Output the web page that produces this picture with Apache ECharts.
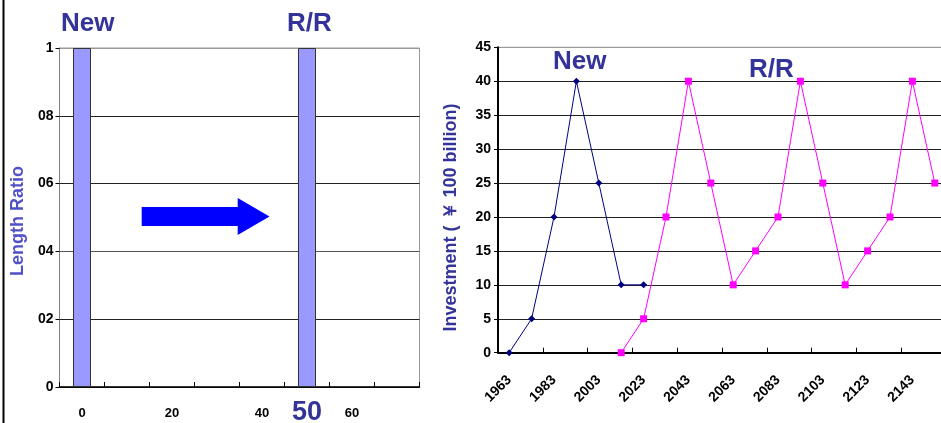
<!DOCTYPE html>
<html>
<head>
<meta charset="utf-8">
<script src="https://cdn.jsdelivr.net/npm/echarts@6/dist/echarts.min.js"></script>
<style>
html,body{margin:0;padding:0;background:#fff;}
#c{width:941px;height:423px;}
</style>
</head>
<body>
<div id="c"></div>
<script>
// Left chart data
var leftCategories = ["0","10","20","30","40","50","60","70"];
var leftValues = [1, null, null, null, null, 1, null, null];
var leftYTickLabels = {"0":"0","0.2":"02","0.4":"04","0.6":"06","0.8":"08","1":"1"};
var leftHighlightIndex = 5;

// Right chart data
var years = ["1963","1973","1983","1993","2003","2013","2023","2033","2043","2053","2063","2073","2083","2093","2103","2113","2123","2133","2143","2153"];
var newValues = [0,5,20,40,25,10,10,null,null,null,null,null,null,null,null,null,null,null,null,null];
var rrValues = [null,null,null,null,null,0,5,20,40,25,10,15,20,40,25,10,15,20,40,25];

var navy = '#333399';
var font = 'Liberation Sans, Arial, sans-serif';

var chart = echarts.init(document.getElementById('c'), null, {renderer:'canvas'});

chart.setOption({
  animation:false,
  backgroundColor:'#fff',
  grid:[
    {left:59.5, top:48, width:360, height:339, show:true, borderColor:'#999', borderWidth:1, backgroundColor:'transparent', outerBoundsMode:'none', containLabel:false},
    {left:498, top:47.3, width:448, height:305.4, show:true, borderColor:'#999', borderWidth:1, backgroundColor:'transparent', outerBoundsMode:'none', containLabel:false}
  ],
  xAxis:[
    {
      gridIndex:0, type:'category', data:leftCategories, boundaryGap:true,
      axisLine:{lineStyle:{color:'#000', width:1.5}},
      axisTick:{show:true, inside:true, length:5, lineStyle:{color:'#000', width:1}},
      axisLabel:{
        interval:0, margin:26, verticalAlign:'middle', color:'#000', fontFamily:font, fontWeight:'bold', fontSize:13,
        formatter:function(v, i){
          if(i === leftHighlightIndex) return '{big|' + v + '}';
          return i % 2 === 0 ? v : '';
        },
        rich:{big:{fontSize:27, fontWeight:'bold', color:navy, fontFamily:font, verticalAlign:'middle'}}
      },
      splitLine:{show:false}
    },
    {
      gridIndex:1, type:'category', data:years, boundaryGap:true,
      axisLine:{lineStyle:{color:'#000', width:2}},
      axisTick:{show:true, inside:true, length:5, lineStyle:{color:'#000', width:1}},
      axisLabel:{interval:1, rotate:45, margin:25, color:'#000', fontFamily:font, fontWeight:'bold', fontSize:14},
      splitLine:{show:false}
    }
  ],
  yAxis:[
    {
      gridIndex:0, type:'value', min:0, max:1, interval:0.2,
      name:'Length Ratio', nameLocation:'middle', nameGap:32,
      nameTextStyle:{color:'#5050C8', fontFamily:font, fontWeight:'bold', fontSize:18, padding:[0,7,0,0]},
      axisLine:{show:true, lineStyle:{color:'#808080', width:1}},
      axisTick:{show:true, length:4, lineStyle:{color:'#000'}},
      axisLabel:{margin:6, color:'#000', fontFamily:font, fontWeight:'bold', fontSize:14,
        formatter:function(v){ var k = String(Math.round(v*10)/10); return leftYTickLabels[k] !== undefined ? leftYTickLabels[k] : k; }},
      splitLine:{show:true, lineStyle:{color:['#222','#222','#555','#222','#222','#999'], width:1}}
    },
    {
      gridIndex:1, type:'value', min:0, max:45, interval:5,
      name:'Investment ( ￥ 100 billion)', nameLocation:'middle', nameGap:38,
      nameTextStyle:{color:navy, fontFamily:font, fontWeight:'bold', fontSize:18, padding:[0,35,0,0]},
      axisLine:{show:true, lineStyle:{color:'#000', width:2}},
      axisTick:{show:true, length:4, lineStyle:{color:'#000'}},
      axisLabel:{margin:7, color:'#000', fontFamily:font, fontWeight:'bold', fontSize:14},
      splitLine:{show:true, lineStyle:{color:['#222','#222','#222','#222','#222','#222','#222','#222','#222','#999'], width:1}}
    }
  ],
  series:[
    {
      type:'bar', xAxisIndex:0, yAxisIndex:0, data:leftValues, barWidth:18,
      itemStyle:{color:'#9999FF', borderColor:'#333', borderWidth:1}
    },
    {
      type:'line', xAxisIndex:1, yAxisIndex:1, data:newValues,
      symbol:'diamond', symbolSize:7, showSymbol:true,
      lineStyle:{color:'#000080', width:1}, itemStyle:{color:'#000080'}
    },
    {
      type:'line', xAxisIndex:1, yAxisIndex:1, data:rrValues,
      symbol:'rect', symbolSize:7, showSymbol:true,
      lineStyle:{color:'#FF00FF', width:1}, itemStyle:{color:'#FF00FF'}
    }
  ],
  graphic:[
    {type:'rect', shape:{x:2.5, y:0, width:2, height:423}, style:{fill:'#000'}},
    {type:'text', left:61, top:11, style:{text:'New', fill:navy, font:'bold 26px ' + font}},
    {type:'text', left:287, top:11, style:{text:'R/R', fill:navy, font:'bold 26px ' + font}},
    {type:'text', left:553, top:49, style:{text:'New', fill:navy, font:'bold 26px ' + font}},
    {type:'text', left:749, top:57, style:{text:'R/R', fill:navy, font:'bold 26px ' + font}},
    {type:'polygon', shape:{points:[[141.7,207],[237.7,207],[237.7,198],[269.5,216.5],[237.7,235],[237.7,226],[141.7,226]]}, style:{fill:'#0000FF'}}
  ]
});
</script>
</body>
</html>
